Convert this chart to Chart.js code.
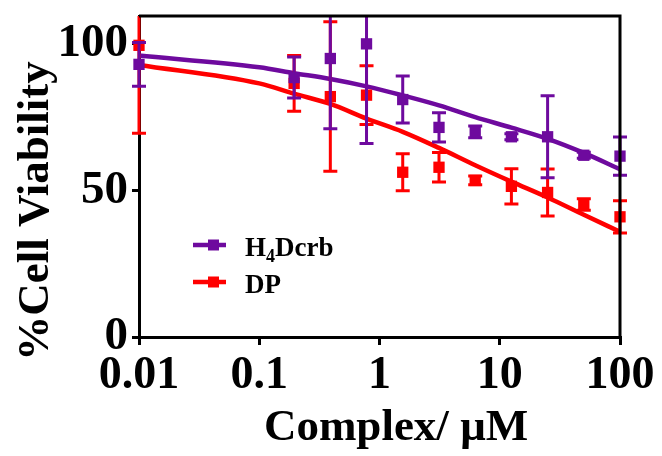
<!DOCTYPE html>
<html>
<head>
<meta charset="utf-8">
<script src="https://cdn.jsdelivr.net/npm/chart.js@4"></script>
<style>
  html, body { margin: 0; padding: 0; background: #fff; }
  #wrap { width: 662px; height: 456px; }
</style>
</head>
<body>
<div id="wrap"><canvas id="cv"></canvas></div>
<script>
// concentrations (uM)
const conc = [0.01, 0.195, 0.39, 0.78, 1.56, 3.125, 6.25, 12.5, 25, 50, 100];
// H4Dcrb viability
const h4Mean = [93, 88.5, 95, 100, 81, 71.5, 70, 68.3, 68.3, 62, 61.7];
const h4Err = [7.5, 7, 24, 34, 8, 5, 2, 1, 14, 1, 6.5];
// DP viability
const dpMean = [99.5, 86.5, 82, 82.5, 56.2, 57.9, 53.4, 51.4, 49.3, 45.2, 41];
const dpErr = [30, 9.5, 25.5, 10, 6.3, 5, 1.5, 6, 8, 2, 5.5];
// fitted curves
const fitX = [0.01, 0.1, 0.195, 0.39, 0.78, 1.56, 3.125, 6.25, 12.5, 25, 50, 100];
const h4Fit = [96, 92, 90, 88, 85.5, 82.4, 79, 75, 71.4, 67.6, 62.8, 57.2];
const dpFit = [92.8, 86.5, 83, 79.5, 74.5, 70, 64.5, 58.6, 53, 47.6, 41.7, 35.9];
const xTicks = [0.01, 0.1, 1, 10, 100];
const yTicks = [0, 50, 100];

const PURPLE = '#6e0a9e';
const RED = '#ff0000';
const FONT = '"Liberation Serif", "Times New Roman", serif';

const pts = (xs, ys) => xs.map((x, i) => ({ x: x, y: ys[i] }));

// error bars, drawn under the markers
const errorBars = {
  id: 'errorBars',
  beforeDatasetDraw(chart, args) {
    const ds = chart.data.datasets[args.index];
    if (!ds.errors) return;
    const { ctx, chartArea, scales } = chart;
    ctx.save();
    ctx.beginPath();
    ctx.rect(0, chartArea.top, chart.width, chart.height);
    ctx.clip();
    ctx.strokeStyle = ds.borderColor;
    ctx.lineWidth = 3;
    ds.data.forEach((p, i) => {
      const x = scales.x.getPixelForValue(p.x);
      const yt = scales.y.getPixelForValue(p.y + ds.errors[i]);
      const yb = scales.y.getPixelForValue(p.y - ds.errors[i]);
      ctx.beginPath();
      ctx.moveTo(x, yt); ctx.lineTo(x, yb);
      ctx.moveTo(x - 7, yt); ctx.lineTo(x + 7, yt);
      ctx.moveTo(x - 7, yb); ctx.lineTo(x + 7, yb);
      ctx.stroke();
    });
    ctx.restore();
  }
};

// box frame, axis titles and inset legend
const frameLegend = {
  id: 'frameLegend',
  afterDraw(chart) {
    const { ctx, chartArea: a } = chart;
    ctx.save();
    ctx.strokeStyle = '#000';
    ctx.lineWidth = 3;
    ctx.beginPath();
    ctx.moveTo(a.left, a.top); ctx.lineTo(a.right, a.top); ctx.lineTo(a.right, a.bottom);
    ctx.stroke();

    ctx.fillStyle = '#000';
    ctx.font = 'bold 45px ' + FONT;
    ctx.textAlign = 'center';
    ctx.textBaseline = 'alphabetic';
    // x axis title
    ctx.fillText('Complex/ μM', 396, 440);
    // y axis title
    ctx.save();
    ctx.translate(48, 211);
    ctx.rotate(-Math.PI / 2);
    ctx.fillText('%Cell Viability', 0, 0);
    ctx.restore();

    ctx.textAlign = 'left';
    const items = [
      { color: PURPLE, y: 245, parts: [['H', 27, 0], ['4', 18, 6], ['Dcrb', 27, 0]] },
      { color: RED, y: 282, parts: [['DP', 27, 0]] }
    ];
    items.forEach(it => {
      ctx.strokeStyle = it.color;
      ctx.fillStyle = it.color;
      ctx.lineWidth = 4.5;
      ctx.beginPath();
      ctx.moveTo(193, it.y); ctx.lineTo(226, it.y);
      ctx.stroke();
      ctx.fillRect(208, it.y - 5.5, 11, 11);
      let x = 245;
      ctx.fillStyle = '#000';
      it.parts.forEach(([t, size, dy]) => {
        ctx.font = 'bold ' + size + 'px ' + FONT;
        ctx.fillText(t, x, it.y + 11 + dy);
        x += ctx.measureText(t).width;
      });
    });
    ctx.restore();
  }
};

new Chart(document.getElementById('cv'), {
  type: 'scatter',
  data: {
    datasets: [
      {
        label: 'H4Dcrb',
        data: pts(conc, h4Mean),
        errors: h4Err,
        borderColor: PURPLE,
        backgroundColor: PURPLE,
        pointStyle: 'rect',
        pointRadius: 8,
        pointBorderWidth: 0,
        showLine: false,
        clip: false
      },
      {
        label: 'DP',
        data: pts(conc, dpMean),
        errors: dpErr,
        borderColor: RED,
        backgroundColor: RED,
        pointStyle: 'rect',
        pointRadius: 8,
        pointBorderWidth: 0,
        showLine: false,
        clip: false
      },
      {
        label: 'H4Dcrb fit',
        data: pts(fitX, h4Fit),
        borderColor: PURPLE,
        borderWidth: 4.5,
        pointRadius: 0,
        showLine: true,
        cubicInterpolationMode: 'monotone',
        clip: false
      },
      {
        label: 'DP fit',
        data: pts(fitX, dpFit),
        borderColor: RED,
        borderWidth: 4.5,
        pointRadius: 0,
        showLine: true,
        cubicInterpolationMode: 'monotone',
        clip: false
      }
    ]
  },
  options: {
    responsive: true,
    maintainAspectRatio: false,
    animation: false,
    layout: { padding: { left: 0, right: 42, top: 16, bottom: 0 } },
    plugins: { legend: { display: false }, tooltip: { enabled: false } },
    scales: {
      x: {
        type: 'logarithmic',
        min: 0.01,
        max: 100,
        afterBuildTicks: s => { s.ticks = xTicks.map(v => ({ value: v })); },
        afterFit: s => { s.height = 119; s.paddingLeft = 0; s.paddingRight = 0; },
        ticks: {
          color: '#000',
          font: { family: FONT, size: 46, weight: 'bold' },
          padding: 4,
          maxRotation: 0,
          callback: v => String(v)
        },
        grid: { drawOnChartArea: false, drawTicks: true, tickLength: 8, lineWidth: 3, color: '#000' },
        border: { display: true, color: '#000', width: 3 },
        title: { display: false }
      },
      y: {
        min: 0,
        max: 109.5,
        afterBuildTicks: s => { s.ticks = yTicks.map(v => ({ value: v })); },
        afterFit: s => { s.width = 139; s.paddingTop = 0; s.paddingBottom = 0; },
        ticks: {
          color: '#000',
          font: { family: FONT, size: 47, weight: 'bold' },
          padding: 4
        },
        grid: { drawOnChartArea: false, drawTicks: true, tickLength: 7, lineWidth: 3, color: '#000' },
        border: { display: true, color: '#000', width: 3 },
        title: { display: false }
      }
    }
  },
  plugins: [errorBars, frameLegend]
});
</script>
</body>
</html>
